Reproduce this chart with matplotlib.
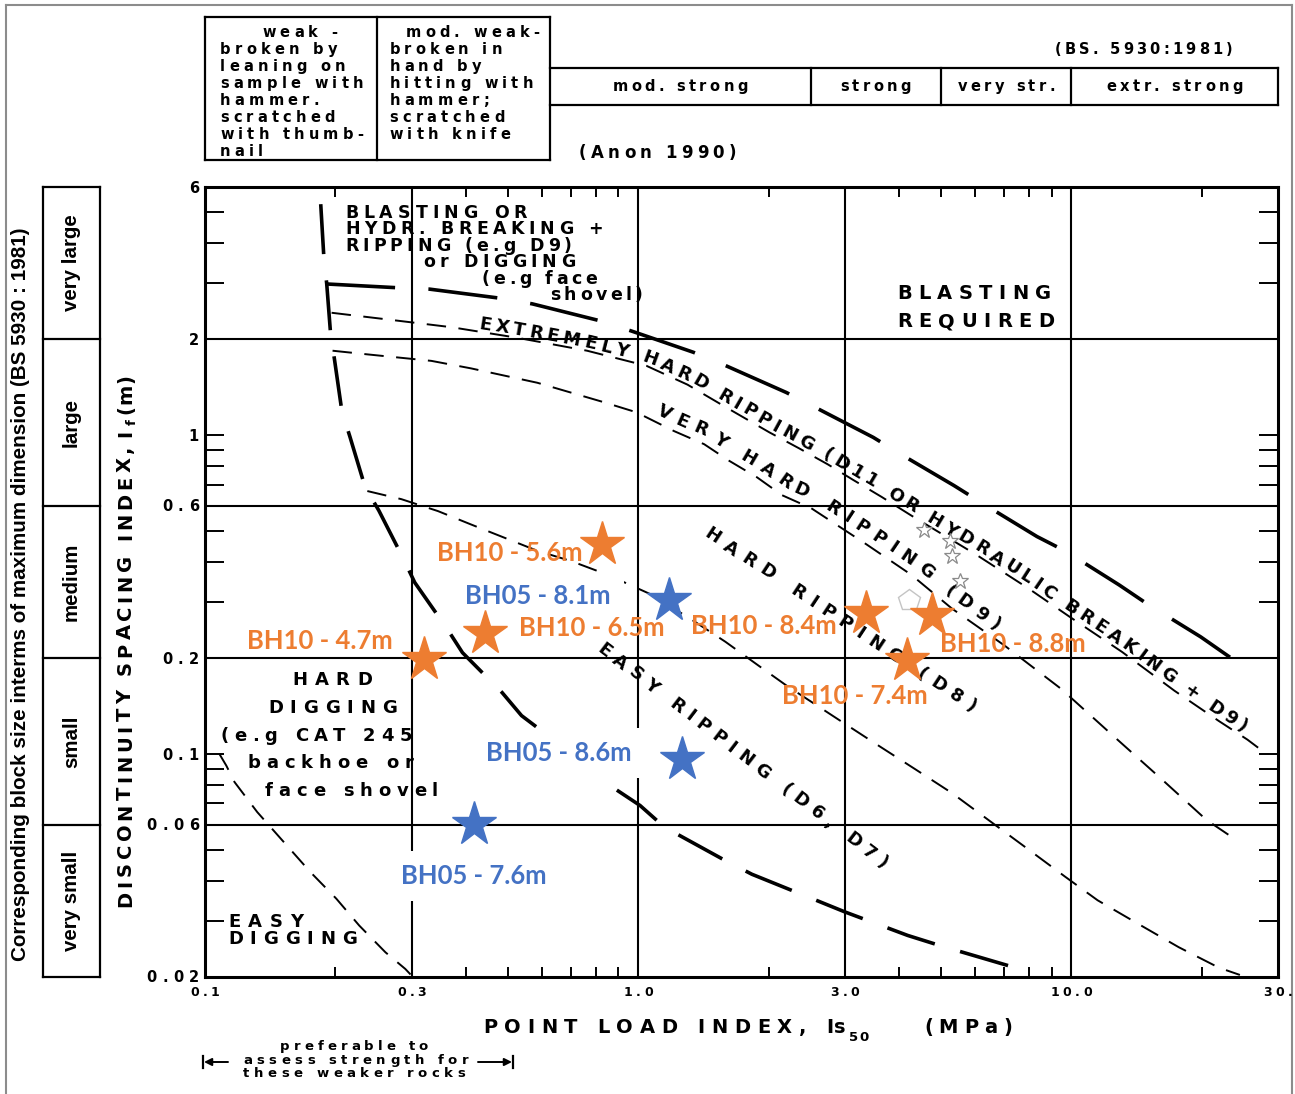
import numpy as np
import matplotlib
matplotlib.use("Agg")
import matplotlib.pyplot as plt
from matplotlib import font_manager as fm
from matplotlib.font_manager import FontProperties
from matplotlib.textpath import TextToPath
from matplotlib.transforms import IdentityTransform, blended_transform_factory
from matplotlib.ticker import NullFormatter

plt.rcParams["lines.scale_dashes"] = False

# ------------------------------------------------------------------ data
# tested cores: point load index Is50 (MPa) and discontinuity spacing If (m)
bh10_names = ["BH10 - 5.6m", "BH10 - 4.7m", "BH10 - 6.5m", "BH10 - 8.4m", "BH10 - 8.8m", "BH10 - 7.4m"]
bh10_is50 = [0.826, 0.321, 0.442, 3.36, 4.76, 4.17]
bh10_if = [0.455, 0.198, 0.240, 0.276, 0.273, 0.197]
bh05_names = ["BH05 - 8.1m", "BH05 - 8.6m", "BH05 - 7.6m"]
bh05_is50 = [1.18, 1.26, 0.418]
bh05_if = [0.304, 0.0962, 0.0604]

# where each sample name sits (centre of the text)
bh10_label_is50 = [0.506, 0.184, 0.780, 1.95, 7.31, 3.16]
bh10_label_if = [0.427, 0.226, 0.248, 0.252, 0.221, 0.152]
bh05_label_is50 = [0.587, 0.656, 0.418]
bh05_label_if = [0.312, 0.101, 0.0414]

# faint marks left on the sheet
ghost_star_is50 = [4.56, 5.25, 5.30, 5.53]
ghost_star_if = [0.506, 0.465, 0.417, 0.348]
ghost_pent_is50 = [4.23]
ghost_pent_if = [0.304]

# excavatability zone boundaries (Is50, If)
blast_is50 = [0.19, 0.277, 0.33, 0.478, 0.57, 0.81, 0.966, 1.34, 1.58, 2.20, 2.57, 3.49,
              4.03, 5.36, 6.25, 8.33, 9.72, 12.9, 14.9, 19.9, 22.9, 26.9]
blast_if = [2.98, 2.90, 2.87, 2.69, 2.58, 2.29, 2.12, 1.82, 1.66, 1.36, 1.22, 0.984,
            0.873, 0.695, 0.61, 0.481, 0.432, 0.339, 0.297, 0.233, 0.204, 0.176]

extreme_is50 = [0.196, 0.261, 0.371, 0.526, 0.762, 1.045, 1.30, 1.60, 2.01, 2.35, 2.74, 3.13,
                3.65, 4.26, 6.03, 7.98, 9.89, 13.1, 17.3, 21.9, 25.5, 27.7]
extreme_if = [2.42, 2.31, 2.18, 2.02, 1.84, 1.65, 1.44, 1.22, 1.02, 0.91, 0.81, 0.725,
              0.64, 0.561, 0.422, 0.33, 0.27, 0.209, 0.158, 0.127, 0.111, 0.102]

veryhard_is50 = [0.197, 0.239, 0.333, 0.411, 0.585, 0.831, 0.99, 1.21, 1.42, 1.62, 1.88, 2.15,
                 2.51, 3.37, 4.27, 5.30, 7.01, 9.48, 12.5, 16.2, 20.5, 23.4]
veryhard_if = [1.84, 1.79, 1.71, 1.62, 1.46, 1.27, 1.18, 1.03, 0.937, 0.832, 0.738, 0.648,
               0.59, 0.454, 0.365, 0.286, 0.219, 0.16, 0.114, 0.0832, 0.0622, 0.0551]

hard_is50 = [0.237, 0.284, 0.345, 0.411, 0.491, 0.585, 0.70, 0.85, 1.08, 1.34, 1.59, 1.89, 2.20,
             2.96, 3.60, 4.37, 5.30, 6.43, 7.81, 9.69, 11.5, 14.3, 17.7, 21.9, 24.5]
hard_if = [0.668, 0.63, 0.578, 0.525, 0.477, 0.434, 0.403, 0.365, 0.315, 0.262, 0.225, 0.19, 0.164,
           0.126, 0.106, 0.0895, 0.0755, 0.0622, 0.0512, 0.0412, 0.0348, 0.0293, 0.0248, 0.0214, 0.0203]

dig_is50 = [0.185, 0.188, 0.191, 0.195, 0.199, 0.207, 0.216, 0.234, 0.252, 0.287, 0.305, 0.363,
            0.393, 0.485, 0.538, 0.60, 0.834, 1.01, 1.15, 1.56, 1.83, 2.55, 3.0, 4.19, 5.02, 7.16]
dig_if = [5.3, 3.66, 2.98, 2.07, 1.73, 1.19, 0.99, 0.69, 0.58, 0.41, 0.345, 0.246,
          0.208, 0.156, 0.132, 0.118, 0.082, 0.069, 0.059, 0.047, 0.042, 0.035, 0.032, 0.027, 0.025, 0.0217]

easydig_is50 = [0.108, 0.112, 0.117, 0.132, 0.152, 0.175, 0.201, 0.227, 0.261, 0.290, 0.302]
easydig_if = [0.1, 0.092, 0.0817, 0.0658, 0.053, 0.0427, 0.0352, 0.029, 0.0239, 0.0212, 0.02]

# axes furniture
x_grid = [0.3, 1.0, 3.0, 10.0]
y_grid = [2, 0.6, 0.2, 0.06]
x_minor = [0.2, 0.4, 0.5, 0.6, 0.7, 0.8, 0.9, 2, 4, 5, 6, 7, 8, 9, 20]
y_minor = [5, 4, 3, 1, 0.9, 0.8, 0.7, 0.5, 0.4, 0.3, 0.1, 0.09, 0.08, 0.07, 0.05, 0.04, 0.03]
x_tick_vals = [0.1, 0.3, 1.0, 3.0, 10.0, 30.0]
x_tick_text = ["0.1", "0.3", "1.0", "3.0", "10.0", "30."]
y_tick_vals = [6, 2, 1, 0.6, 0.2, 0.1, 0.06, 0.02]
y_tick_text = ["6", "2", "1", "0.6", "0.2", "0.1", "0.06", "0.02"]

# rock strength classes (BS 5930:1981) along the Is50 axis
strength_bounds = [0.1, 0.25, 0.625, 2.5, 5.0, 10.0, 30.0]
weak_lines = ["weak -", "broken by", "leaning on", "sample with", "hammer.", "scratched", "with thumb-", "nail"]
modweak_lines = ["mod. weak-", "broken in", "hand by", "hitting with", "hammer;", "scratched", "with knife"]
strength_names = ["mod. strong", "strong", "very str.", "extr. strong"]

# block size classes along the spacing axis
block_bounds = [6, 2, 0.6, 0.2, 0.06, 0.02]
block_names = ["very large", "large", "medium", "small", "very small"]

ORANGE = "#ED7D31"
BLUE = "#4472C4"

# ------------------------------------------------------------------ figure
W, H, DPI = 1295, 1094, 100
fig = plt.figure(figsize=(W / DPI, H / DPI), dpi=DPI)
fig.patch.set_facecolor("white")
ax = fig.add_axes([205 / W, 1 - 977 / H, (1278 - 205) / W, (977 - 187) / H])
ax.set_xscale("log")
ax.set_yscale("log")
ax.set_xlim(0.1, 30)
ax.set_ylim(0.02, 6)
ID = IdentityTransform()

avail = {f.name for f in fm.fontManager.ttflist}


def pick(*names):
    for n in names:
        if n in avail:
            return n
    return "DejaVu Sans"


SANS = pick("Liberation Sans", "Arial", "DejaVu Sans")
WIDE = pick("DejaVu Sans", SANS)
LABEL = pick("Lato", "Open Sans", SANS)


def fp(size, family=None, weight="bold"):
    return FontProperties(family=family or WIDE, weight=weight, size=size)


t2p = TextToPath()
_cache = {}


def natw(s, f):
    return t2p.get_text_width_height_descent(s, f, False)[0] * DPI / 72.0


def adv(ch, f):
    key = (ch, f.get_family()[0], f.get_weight(), f.get_size_in_points())
    if key not in _cache:
        _cache[key] = natw("x" + ch + "x", f) - natw("xx", f)
    return _cache[key]


class Track:
    def __init__(self, pts):
        P = np.asarray(pts, float)
        L = np.hypot(*np.diff(P, axis=0).T)
        P = P[np.r_[True, L > 1e-6]]
        self.P = P
        self.seg = np.diff(P, axis=0)
        self.L = np.hypot(self.seg[:, 0], self.seg[:, 1])
        self.cum = np.r_[0.0, np.cumsum(self.L)]

    def at(self, s):
        i = int(np.clip(np.searchsorted(self.cum, s) - 1, 0, len(self.L) - 1))
        t = (s - self.cum[i]) / self.L[i]
        return self.P[i] + t * self.seg[i]

    def s_at_x(self, xd):
        return float(np.interp(xd, self.P[:, 0], self.cum))


def letters(tr, s_first, s_last, text, f, offset=0.0, color="black", z=4):
    a = [adv(c, f) for c in text]
    n = len(text)
    gap = 0.0 if n == 1 else (s_last - s_first - (sum(a) - a[0] / 2 - a[-1] / 2)) / (n - 1)
    s = s_first - a[0] / 2
    for c, w in zip(text, a):
        sc = s + w / 2
        d = tr.at(sc + 5) - tr.at(sc - 5)
        d = d / np.hypot(*d)
        nrm = np.array([-d[1], d[0]])
        p = tr.at(sc) + nrm * offset
        if c.strip():
            ax.text(p[0], p[1], c, fontproperties=f, rotation=np.degrees(np.arctan2(d[1], d[0])),
                    rotation_mode="anchor", ha="center", va="baseline", color=color,
                    zorder=z, transform=ID, clip_on=False)
        s += w + gap


def spaced(x, y, text, f, width=None, gap=None, rot=0.0, ha="left", **kw):
    """Letter-spaced text; x, y in pixels from the top-left, y is the baseline."""
    a = [adv(c, f) for c in text]
    if width is None:
        width = sum(a) + gap * (len(text) - 1)
    th = np.radians(rot)
    d = np.array([np.cos(th), np.sin(th)])
    p0 = np.array([x, H - y], float) - d * {"left": 0.0, "center": width / 2, "right": width}[ha]
    tr = Track([p0 - 100 * d, p0 + (width + 100) * d])
    letters(tr, 100 + a[0] / 2, 100 + width - a[-1] / 2, text, f, **kw)


def fit_gap(text, f, width):
    return (width - sum(adv(c, f) for c in text)) / (len(text) - 1)


def disp(x, y):
    return ax.transData.transform((x, y))


# ------------------------------------------------------------------ axes frame
for sp in ax.spines.values():
    sp.set_linewidth(2.2)
ax.set_xticks([])
ax.set_yticks([])
ax.set_xticks(x_minor, minor=True)
ax.set_yticks(y_minor, minor=True)
ax.xaxis.set_minor_formatter(NullFormatter())
ax.yaxis.set_minor_formatter(NullFormatter())
ax.tick_params(axis="x", which="minor", direction="in", length=7.5, width=1.4, top=True, bottom=True)
ax.tick_params(axis="y", which="minor", direction="in", length=14, width=1.4, left=True, right=True)

for xv in x_grid:
    ax.axvline(xv, color="black", lw=1.5, zorder=1)
for yv in y_grid:
    ax.axhline(yv, color="black", lw=1.5, zorder=1)

# tick labels
f_yt = fp(10.5)
for v, s in zip(y_tick_vals, y_tick_text):
    yp = H - disp(1, v)[1]
    spaced(199, yp + 5.5, s, f_yt, gap=5.5, ha="right")
f_xt = fp(9)
for v, s in zip(x_tick_vals, x_tick_text):
    xp = disp(v, 1)[0]
    spaced(xp, 996, s, f_xt, gap=3.5, ha="center")

# ------------------------------------------------------------------ zone boundaries
line_kw = dict(color="black", solid_capstyle="butt", dash_capstyle="butt", zorder=2)
ax.plot(dig_is50, dig_if, lw=2.6, dashes=(36, 19), **line_kw)
ax.plot(blast_is50, blast_if, lw=2.6, dashes=(50, 24), **line_kw)
ax.plot(extreme_is50, extreme_if, lw=1.4, dashes=(14, 9), **line_kw)
ax.plot(veryhard_is50, veryhard_if, lw=1.4, dashes=(14, 9), **line_kw)
ax.plot(hard_is50, hard_if, lw=1.4, dashes=(14, 9), **line_kw)
ax.plot(easydig_is50, easydig_if, lw=1.4, dashes=(13, 9), **line_kw)

# zone names
f_zone = fp(13)
tr_c = Track(ax.transData.transform(np.column_stack([extreme_is50, extreme_if])))
letters(tr_c, tr_c.s_at_x(disp(0.441, 1)[0]), tr_c.s_at_x(disp(24.2, 1)[0]),
        "EXTREMELY HARD RIPPING (D11 OR HYDRAULIC BREAKING + D9)", f_zone, offset=3)
tr_d = Track(ax.transData.transform(np.column_stack([veryhard_is50, veryhard_if])))
letters(tr_d, tr_d.s_at_x(disp(1.12, 1)[0]), tr_d.s_at_x(disp(6.43, 1)[0]),
        "VERY HARD RIPPING (D9)", f_zone, offset=7)
for txt, p_a, p_b in [("HARD RIPPING (D8)", (1.49, 0.487), (5.9, 0.142)),
                      ("EASY RIPPING (D6, D7)", (0.84, 0.213), (3.68, 0.0459))]:
    pa, pb = disp(*p_a), disp(*p_b)
    dvec = (pb - pa) / np.hypot(*(pb - pa))
    tr = Track([pa - 100 * dvec, pb + 100 * dvec])
    letters(tr, 100, 100 + np.hypot(*(pb - pa)), txt, f_zone, offset=-6.5)

f_blk = fp(12.5)
for txt, x, y, w in [("BLASTING OR", 345, 218, 182), ("HYDR. BREAKING +", 345, 234, 258),
                     ("RIPPING (e.g D9)", 345, 251, 227), ("or DIGGING", 423, 267, 152),
                     ("(e.g face", 482, 284, 115), ("shovel)", 550, 300, 93)]:
    spaced(x, y, txt, f_blk, width=w)

f_req = fp(14)
spaced(897, 299, "BLASTING", f_req, width=154)
spaced(897, 327, "REQUIRED", f_req, width=157)

f_dig = fp(13)
for txt, x, y, w in [("HARD", 292, 685, 80), ("DIGGING", 268, 713, 129),
                     ("(e.g CAT 245", 220, 741, 192), ("backhoe or", 247, 768, 166),
                     ("face shovel", 265, 796, 173), ("EASY", 228, 927, 75),
                     ("DIGGING", 228, 944, 129)]:
    spaced(x, y, txt, f_dig, width=w)

# ------------------------------------------------------------------ samples
ax.plot(ghost_star_is50, ghost_star_if, ls="none", marker="*", ms=12, mfc="white",
        mec="#8a8a8a", mew=0.9, zorder=5)
ax.plot(ghost_pent_is50, ghost_pent_if, ls="none", marker="p", ms=16, mfc="white",
        mec="#c4c4c4", mew=1.0, zorder=5)

f_lab0 = FontProperties(family=LABEL, weight="bold", size=16)
lab_size = 16 * 146 / natw("BH10 - 5.6m", f_lab0)
f_lab = FontProperties(family=LABEL, weight="bold", size=lab_size)
for name, x, y in zip(bh05_names, bh05_label_is50, bh05_label_if):
    ax.text(x, y, name, fontproperties=f_lab, color=BLUE, ha="center", va="center", zorder=7,
            bbox=dict(boxstyle="square,pad=0.5", fc="white", ec="none"))
for name, x, y in zip(bh10_names, bh10_label_is50, bh10_label_if):
    ax.text(x, y, name, fontproperties=f_lab, color=ORANGE, ha="center", va="center", zorder=8)

ax.plot(bh10_is50, bh10_if, ls="none", marker="*", ms=33, color=ORANGE, zorder=9, clip_on=False)
ax.plot(bh05_is50, bh05_if, ls="none", marker="*", ms=33, color=BLUE, zorder=9, clip_on=False)

# ------------------------------------------------------------------ axis titles
f_ax = fp(14)
spaced(483, 1033, "POINT LOAD INDEX,", f_ax, width=323)
spaced(826, 1033, "Is", f_ax, gap=0.5)
spaced(849, 1041, "50", fp(9.5), width=20)
spaced(924, 1033, "(MPa)", f_ax, width=88)

f_yl = fp(14)
spaced(131, 907, "DISCONTINUITY SPACING INDEX,", f_yl, width=461, rot=90)
spaced(131, 433, "I", f_yl, width=adv("I", f_yl), rot=90, ha="center")
f_sub = fp(9.5)
spaced(136, 422, "f", f_sub, width=adv("f", f_sub), rot=90, ha="center")
spaced(131, 414, "(m)", f_yl, gap=1.0, rot=90)

f_note = fp(9.5)
spaced(280, 1050, "preferable to", f_note, width=148)
spaced(243, 1064, "assess strength for", f_note, width=225)
spaced(243, 1077, "these weaker rocks", f_note, width=222)
arrow_kw = dict(arrowstyle="-|>", lw=1.4, color="black", mutation_scale=11, shrinkA=0, shrinkB=0)
ax.annotate("", xy=(204, H - 1062), xytext=(228, H - 1062), xycoords=ID, textcoords=ID,
            arrowprops=arrow_kw, annotation_clip=False)
ax.annotate("", xy=(512, H - 1062), xytext=(478, H - 1062), xycoords=ID, textcoords=ID,
            arrowprops=arrow_kw, annotation_clip=False)
for xb in (203, 513):
    ax.plot([xb, xb], [H - 1056, H - 1068], color="black", lw=1.6, transform=ID, clip_on=False)

# ------------------------------------------------------------------ strength table
top = blended_transform_factory(ax.transData, ID)
tk = dict(color="black", lw=1.6, transform=top, clip_on=False, solid_capstyle="projecting")
b = strength_bounds
for yt in (17, 160):
    ax.plot([b[0], b[2]], [H - yt, H - yt], **tk)
for xv in b[:3]:
    ax.plot([xv, xv], [H - 17, H - 160], **tk)
for yt in (68, 105):
    ax.plot([b[2], b[-1]], [H - yt, H - yt], **tk)
for xv in b[3:]:
    ax.plot([xv, xv], [H - 68, H - 105], **tk)

f_tbl = fp(10.5)
g_tbl = fit_gap("sample with", f_tbl, 143)
for i, line in enumerate(weak_lines):
    x0 = disp(b[0], 1)[0] + (57 if i == 0 else 15)
    spaced(x0, 37 + 17 * i, line, f_tbl, gap=g_tbl)
for i, line in enumerate(modweak_lines):
    x0 = disp(b[1], 1)[0] + (28 if i == 0 else 12)
    spaced(x0, 37 + 17 * i, line, f_tbl, gap=g_tbl)

g_row = fit_gap("mod. strong", f_tbl, 135)
for name, lo, hi in zip(strength_names, b[2:-1], b[3:]):
    xc = disp(np.sqrt(lo * hi), 1)[0]
    spaced(xc, 91, name, f_tbl, gap=g_row, ha="center")
spaced(1055, 54, "(BS. 5930:1981)", f_tbl, width=177)
spaced(579, 158, "(Anon 1990)", fp(12), width=157)

# ------------------------------------------------------------------ block size column
left = blended_transform_factory(ID, ax.transData)
lk = dict(color="black", lw=1.6, transform=left, clip_on=False, solid_capstyle="projecting")
for xv in (43, 100):
    ax.plot([xv, xv], [block_bounds[0], block_bounds[-1]], **lk)
for yv in block_bounds:
    ax.plot([43, 100], [yv, yv], **lk)
f_bl0 = fp(14, family=SANS)
f_bl = fp(14 * 97 / natw("very large", f_bl0), family=SANS)
for name, hi, lo in zip(block_names, block_bounds[:-1], block_bounds[1:]):
    ax.text(71.5, np.sqrt(hi * lo), name, fontproperties=f_bl, rotation=90, ha="center",
            va="center", transform=left, clip_on=False)
outer = "Corresponding block size interms of maximum dimension (BS 5930 : 1981)"
f_out0 = fp(14, family=SANS)
f_out = fp(14 * 732 / natw(outer, f_out0), family=SANS)
ax.text(21, H - 594, outer, fontproperties=f_out, rotation=90, ha="center", va="center",
        transform=ID, clip_on=False)

# ------------------------------------------------------------------ sheet border
bk = dict(color="#8c8c8c", lw=1.5, transform=ID, clip_on=False)
ax.plot([5.5, 5.5], [0, H - 5], **bk)
ax.plot([5.5, 1291.5], [H - 5, H - 5], **bk)
ax.plot([1291.5, 1291.5], [H - 5, 0], **bk)

fig.savefig("out.png", dpi=DPI, facecolor="white")
